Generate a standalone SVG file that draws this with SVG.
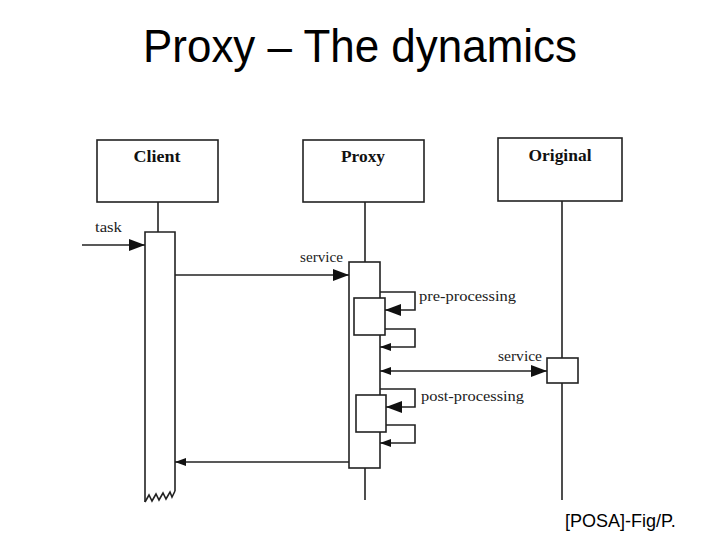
<svg xmlns="http://www.w3.org/2000/svg" width="720" height="540" viewBox="0 0 720 540">
<style>
.ln{fill:none;stroke:#222;stroke-width:1.6}
.bx{fill:#fff;stroke:#222;stroke-width:1.6}
.hd{font-family:"Liberation Serif",serif;font-weight:bold;font-size:17px;fill:#111;text-anchor:middle}
.lb{font-family:"Liberation Serif",serif;font-size:15px;fill:#222}
.big{marker-end:url(#ab)}
.sm{marker-end:url(#as)}
</style>
<defs>
<marker id="ab" markerUnits="userSpaceOnUse" markerWidth="18" markerHeight="14" refX="16" refY="6" orient="auto"><path d="M0,0 L16,6 L0,12 z" fill="#111"/></marker>
<marker id="as" markerUnits="userSpaceOnUse" markerWidth="12" markerHeight="10" refX="11" refY="4" orient="auto-start-reverse"><path d="M0,0 L11,4 L0,8 z" fill="#111"/></marker>
</defs>
<rect width="720" height="540" fill="#fff"/>
<text x="360" y="62" font-family="Liberation Sans, Arial, sans-serif" font-size="46" text-anchor="middle" textLength="434" lengthAdjust="spacingAndGlyphs" fill="#000">Proxy – The dynamics</text>

<g id="client">
<rect class="bx" x="97" y="140" width="121" height="62"/>
<text class="hd" x="157" y="162" textLength="47" lengthAdjust="spacingAndGlyphs">Client</text>
<line class="ln" x1="158" y1="202" x2="158" y2="232"/>
<path class="ln" d="M145,502 V232 H175 V491"/>
<polyline class="ln" points="145,502 149,495 152,501 156,494 159,500 163,493 166,499 170,492 172,497 175,491"/>
</g>

<g id="proxy">
<rect class="bx" x="303" y="140" width="121" height="62"/>
<text class="hd" x="363" y="162" textLength="44" lengthAdjust="spacingAndGlyphs">Proxy</text>
<line class="ln" x1="365" y1="202" x2="365" y2="262"/>
<line class="ln" x1="365" y1="468" x2="365" y2="500"/>
<rect class="bx" x="349" y="262" width="31" height="206"/>
<rect class="bx" x="354" y="298" width="31" height="37"/>
<rect class="bx" x="356" y="395" width="30" height="37"/>
</g>

<g id="original">
<rect class="bx" x="498" y="138" width="124" height="63"/>
<text class="hd" x="560" y="161" textLength="63" lengthAdjust="spacingAndGlyphs">Original</text>
<line class="ln" x1="562" y1="201" x2="562" y2="500"/>
<rect class="bx" x="547" y="358" width="31" height="25"/>
</g>

<g id="connectors">
<path class="ln big" d="M82,245 H145"/>
<path class="ln big" d="M175,275 H349"/>
<path class="ln big" d="M380,292 H415 V310 H385"/>
<path class="ln sm" d="M385,329 H415 V347 H380"/>
<path class="ln big" d="M380,371 H547" marker-start="url(#as)"/>
<path class="ln big" d="M380,389 H415 V407 H386"/>
<path class="ln sm" d="M386,425 H415 V443 H380"/>
<path class="ln sm" d="M349,462 H175"/>
</g>

<g id="labels">
<text class="lb" x="95" y="232" textLength="27" lengthAdjust="spacingAndGlyphs">task</text>
<text class="lb" x="300" y="262" textLength="43" lengthAdjust="spacingAndGlyphs">service</text>
<text class="lb" x="419" y="301" textLength="97" lengthAdjust="spacingAndGlyphs">pre-processing</text>
<text class="lb" x="498" y="361" textLength="44" lengthAdjust="spacingAndGlyphs">service</text>
<text class="lb" x="421" y="401" textLength="103" lengthAdjust="spacingAndGlyphs">post-processing</text>
</g>

<text x="565" y="527" font-family="Liberation Sans, Arial, sans-serif" font-size="18" fill="#000">[POSA]-Fig/P.</text>
</svg>
